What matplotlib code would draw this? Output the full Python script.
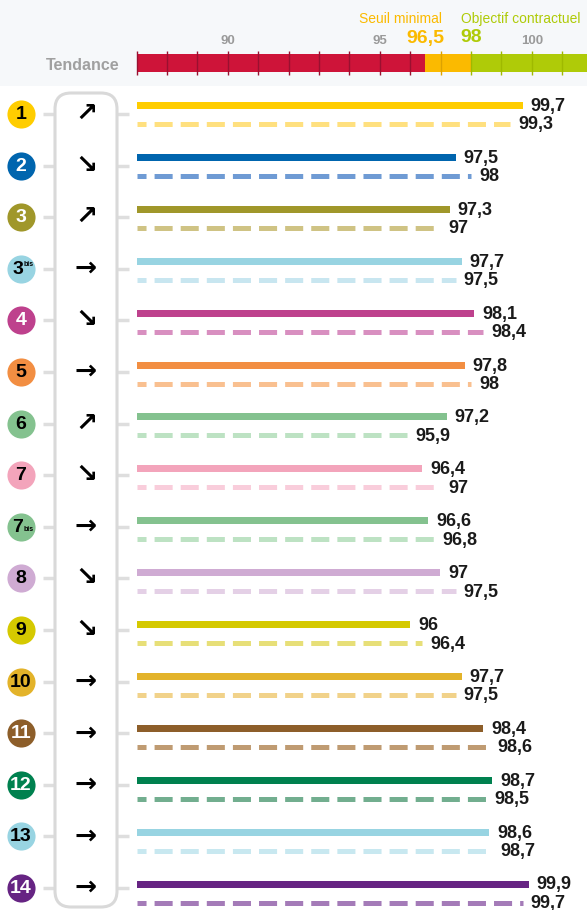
import matplotlib
matplotlib.use('Agg')
import matplotlib.pyplot as plt
from matplotlib.patches import FancyBboxPatch, Rectangle

plt.rcParams['lines.scale_dashes'] = False

# metro lines, current year (solid) and previous year (dashed)
lines = ['1', '2', '3', '3bis', '4', '5', '6', '7', '7bis', '8', '9', '10', '11', '12', '13', '14']
current = [99.7, 97.5, 97.3, 97.7, 98.1, 97.8, 97.2, 96.4, 96.6, 97.0, 96.0, 97.7, 98.4, 98.7, 98.6, 99.9]
previous = [99.3, 98.0, 97.0, 97.5, 98.4, 98.0, 95.9, 97.0, 96.8, 97.5, 96.4, 97.5, 98.6, 98.5, 98.7, 99.7]
trend = ['↗', '↘', '↗', '→', '↘', '→', '↗', '↘', '→', '↘', '↘', '→', '→', '→', '→', '→']

col_cur = ['#ffcd00', '#0065ae', '#a0972a', '#98d4e2', '#be418d', '#f28e42', '#84c28f', '#f3a4bb',
           '#84c28f', '#cfabd3', '#d5c900', '#e3b32a', '#8d5e2a', '#00814f', '#98d4e2', '#662483']
col_prev = ['#ffe07f', '#6f9bd4', '#cfc384', '#c8e6f0', '#d88fc0', '#f9c090', '#bde2c3', '#f9cddb',
            '#bde2c3', '#e4d0e6', '#e7df78', '#f1d28a', '#bf9b72', '#72ae8f', '#c8e8f0', '#a47bb8']
col_num = ['black', 'white', 'white', 'black', 'white', 'black', 'black', 'black',
           'black', 'black', 'black', 'black', 'white', 'white', 'black', 'white']

# scale header
band_start = 87
seuil = 96.5
objectif = 98
band_end = 102
ticks_major = [90, 95, 100]

PX = 30.4      # pixels per point of regularity
X90 = 227.7    # pixel position of 90

FONT = ['Liberation Sans', 'DejaVu Sans']


def fmt(v):
    s = ('%.1f' % v).rstrip('0').rstrip('.')
    return s.replace('.', ',')


fig = plt.figure(figsize=(5.87, 9.10), dpi=100)
bg = fig.add_axes([0, 0, 1, 1])
bg.set_xlim(0, 587)
bg.set_ylim(910, 0)
bg.axis('off')

ax = fig.add_axes([0, 0, 1, 1])
ax.set_xlim(90 - X90 / PX, 90 + (587 - X90) / PX)
ax.set_ylim(910, 0)
ax.axis('off')
ax.patch.set_alpha(0)

# header background
bg.add_patch(Rectangle((0, 0), 587, 86, color='#f6f8fa', lw=0, zorder=0))

# tendance band
ax.barh(63, seuil - band_start, left=band_start, height=18, color='#ce1439', lw=0)
ax.barh(63, objectif - seuil, left=seuil, height=18, color='#fbba00', lw=0)
ax.barh(63, band_end - objectif, left=objectif, height=18, color='#afcb08', lw=0)
for v in range(band_start, band_end):
    if v < seuil:
        c = '#9a1030'
    elif v < objectif:
        c = '#dda200'
    else:
        c = '#9fb900'
    ax.vlines(v, 51, 75, color=c, lw=1)
for t in ticks_major:
    ax.text(t, 41, str(t), ha='center', va='center', fontsize=9.5, color='#9a9a9a',
            weight='bold', family=FONT)
ax.text(seuil, 38, fmt(seuil), ha='center', va='center', fontsize=14, color='#fbba00',
        weight='bold', family=FONT)
ax.text(objectif, 38, fmt(objectif), ha='center', va='center', fontsize=14, color='#afcb08',
        weight='bold', family=FONT)
ax.text(seuil + 0.55, 19, 'Seuil minimal', ha='right', va='center', fontsize=10,
        color='#fbba00', family=FONT)
ax.text(objectif - 0.33, 19, 'Objectif contractuel', ha='left', va='center', fontsize=10,
        color='#afcb08', family=FONT)
bg.text(120, 65, 'Tendance', ha='right', va='center', fontsize=11.5, color='#a0a0a0',
        weight='bold', family=FONT)

# rounded trend box
bg.add_patch(FancyBboxPatch((55, 93), 62, 814, boxstyle='round,pad=0,rounding_size=16',
                            fc='white', ec='#d9d9d9', lw=2.2, zorder=1))

for i, name in enumerate(lines):
    cy = 114 + i * 51.6
    by = 105.5 + i * 51.9
    dy = by + 18.5

    bg.hlines(cy, 43, 55, color='#dedede', lw=2.5, zorder=0.5)
    bg.hlines(cy, 117, 129, color='#dedede', lw=2.5, zorder=0.5)

    bg.scatter([21], [cy], s=410, color=col_cur[i], lw=0, zorder=2)
    if name.endswith('bis'):
        bg.text(18, cy + 0.5, name[:-3], ha='center', va='center', fontsize=14,
                weight='bold', color=col_num[i], family=FONT, zorder=3)
        by_bis = cy - 4 if name == '3bis' else cy + 3
        bg.text(23.5, by_bis, 'bis', ha='left', va='center', fontsize=5,
                weight='bold', color=col_num[i], family=FONT, zorder=3)
    else:
        bg.text(21, cy + 0.5, name, ha='center', va='center', fontsize=14,
                weight='bold', color=col_num[i], family=FONT, zorder=3)

    bg.text(86, cy, trend[i], ha='center', va='center', fontsize=19, weight='bold',
            family='DejaVu Sans', color='black', zorder=3)

    ax.barh(by, current[i] - band_start, left=band_start, height=7, color=col_cur[i], lw=0)
    ax.plot([band_start, previous[i]], [dy, dy], color=col_prev[i], lw=3.6,
            linestyle=(6.5, (13, 5.8)), solid_capstyle='butt', dash_capstyle='butt')

    ax.text(current[i] + 8 / PX, by + 1, fmt(current[i]), ha='left', va='center',
            fontsize=13, weight='bold', color='#1a1a1a', family=FONT)
    ax.text(previous[i] + 8 / PX, dy + 1, fmt(previous[i]), ha='left', va='center',
            fontsize=13, weight='bold', color='#1a1a1a', family=FONT)

fig.savefig('out.png', dpi=100)
